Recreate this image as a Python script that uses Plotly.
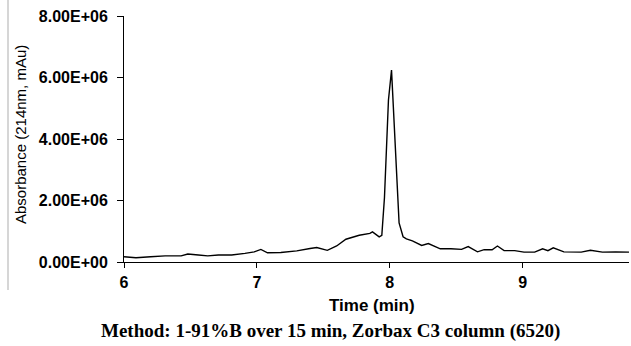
import plotly.graph_objects as go

time_min = [6.00, 6.09, 6.20, 6.31, 6.43, 6.48, 6.56, 6.63, 6.71, 6.81, 6.91, 6.98, 7.03, 7.08,
            7.18, 7.30, 7.40, 7.45, 7.53, 7.60, 7.67, 7.72, 7.77, 7.85, 7.87, 7.92, 7.94, 7.96,
            7.99, 8.013, 8.045, 8.07, 8.10, 8.125, 8.17, 8.24, 8.29, 8.38, 8.46, 8.54, 8.59,
            8.66, 8.71, 8.77, 8.81, 8.86, 8.94, 9.01, 9.09, 9.15, 9.19, 9.23, 9.31, 9.44, 9.51,
            9.60, 9.70, 9.80]
absorbance = [0.17e6, 0.14e6, 0.17e6, 0.20e6, 0.20e6, 0.26e6, 0.23e6, 0.20e6, 0.23e6, 0.23e6,
              0.28e6, 0.33e6, 0.41e6, 0.30e6, 0.31e6, 0.36e6, 0.44e6, 0.47e6, 0.38e6, 0.52e6,
              0.74e6, 0.80e6, 0.87e6, 0.93e6, 0.98e6, 0.82e6, 0.87e6, 2.10e6, 5.27e6, 6.24e6,
              3.64e6, 1.27e6, 0.82e6, 0.75e6, 0.69e6, 0.54e6, 0.60e6, 0.43e6, 0.43e6, 0.41e6,
              0.50e6, 0.33e6, 0.40e6, 0.40e6, 0.52e6, 0.37e6, 0.37e6, 0.32e6, 0.32e6, 0.43e6,
              0.37e6, 0.46e6, 0.33e6, 0.32e6, 0.38e6, 0.32e6, 0.33e6, 0.32e6]

x_ticks = [6, 7, 8, 9]
y_ticks = [0, 2e6, 4e6, 6e6, 8e6]
y_tick_labels = ["0.00E+00", "2.00E+06", "4.00E+06", "6.00E+06", "8.00E+06"]

SANS = "Liberation Sans, Arial, sans-serif"
SERIF = "Liberation Serif, Times New Roman, serif"

fig = go.Figure()
fig.add_trace(go.Scatter(x=time_min, y=absorbance, mode="lines",
                         line=dict(color="black", width=1.4), showlegend=False))

W, H = 631, 346
ml, mr, mt, mb = 124, 2, 16, 84
pw, ph = W - ml - mr, H - mt - mb

def px_x(p):
    return (p - ml) / pw

def px_y(p):
    return (H - mb - p) / ph

fig.update_layout(
    width=W, height=H,
    margin=dict(l=ml, r=mr, t=mt, b=mb, autoexpand=False),
    plot_bgcolor="white", paper_bgcolor="white",
    font=dict(family=SANS, color="black"),
    xaxis=dict(range=[6, 9.8], tickvals=x_ticks, showgrid=False, zeroline=False,
               showline=True, linecolor="black", linewidth=1, ticks="outside",
               ticklen=5, tickcolor="black", automargin=False, ticklabelstandoff=1,
               tickfont=dict(size=16, family=SANS, weight="bold")),
    yaxis=dict(range=[0, 8e6], tickvals=y_ticks, ticktext=y_tick_labels, showgrid=False,
               zeroline=False, showline=True, linecolor="black", linewidth=1,
               ticks="outside", ticklen=6, tickcolor="black", automargin=False,
               ticklabelstandoff=6,
               tickfont=dict(size=16, family=SANS, weight="bold")),
)

fig.add_annotation(text="Absorbance (214nm, mAu)", xref="paper", yref="paper",
                   x=px_x(20), y=px_y(135), showarrow=False, textangle=-90,
                   xanchor="center", yanchor="middle",
                   font=dict(family=SANS, size=15, color="black"))

fig.add_annotation(text="<b>Time (min)</b>", xref="paper", yref="paper",
                   x=px_x(372), y=px_y(305), showarrow=False,
                   xanchor="center", yanchor="middle",
                   font=dict(family=SANS, size=17, color="black"))

fig.add_annotation(text="<b>Method: 1-91%B over 15 min, Zorbax C3 column (6520)</b>",
                   xref="paper", yref="paper", x=px_x(330), y=px_y(331),
                   showarrow=False, xanchor="center", yanchor="middle",
                   font=dict(family=SERIF, size=19, color="black"))

fig.add_shape(type="line", xref="paper", yref="paper",
              x0=px_x(8), x1=px_x(8), y0=px_y(0), y1=px_y(290),
              line=dict(color="#c8c8c8", width=1.5))

fig.write_html("out.html", config={"displayModeBar": False},
               post_script="document.body.style.margin='0';document.body.style.overflow='hidden';")
